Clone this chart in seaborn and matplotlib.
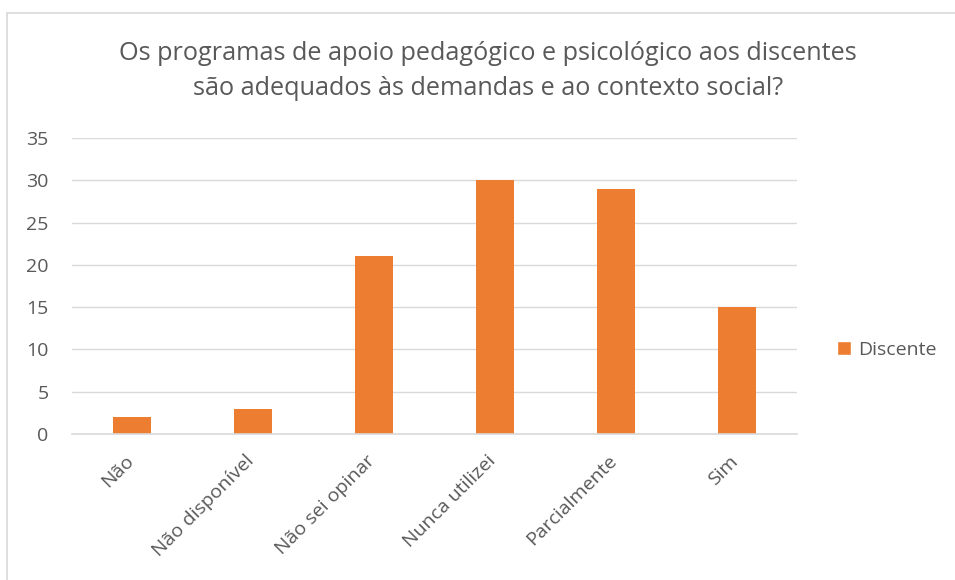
import matplotlib
matplotlib.use("Agg")
import matplotlib.pyplot as plt
import matplotlib.transforms as mtransforms
import seaborn as sns
import pandas as pd
from matplotlib.lines import Line2D
from matplotlib.patches import Patch

categories = ["Não", "Não disponível", "Não sei opinar", "Nunca utilizei", "Parcialmente", "Sim"]
values = [2, 3, 21, 30, 29, 15]
series_name = "Discente"
title = "Os programas de apoio pedagógico e psicológico aos discentes\nsão adequados às demandas e ao contexto social?"

sns.set_theme(style="white")
plt.rcParams['font.family'] = ['Open Sans', 'DejaVu Sans']

df = pd.DataFrame({"cat": categories, "val": values, "serie": series_name})

W, H = 955, 580
fig = plt.figure(figsize=(W / 100, H / 100), dpi=100)
ax = fig.add_axes([72 / W, 1 - 434 / H, (797 - 72) / W, (434 - 138) / H])

sns.barplot(data=df, x="cat", y="val", color="#ED7D31", width=0.315, ax=ax,
            saturation=1, edgecolor="none")

ax.set_ylim(0, 35)
ax.set_xlim(-0.5, len(categories) - 0.5)
ax.set_yticks(range(0, 36, 5))
ax.yaxis.grid(True, color="#D9D9D9", linewidth=1.0)
ax.set_axisbelow(True)
for s in ["top", "right", "left"]:
    ax.spines[s].set_visible(False)
ax.spines["bottom"].set_color("#D9D9D9")
ax.spines["bottom"].set_linewidth(1.2)
ax.set_xlabel("")
ax.set_ylabel("")
ax.tick_params(axis="both", length=0, colors="#595959", labelsize=14)
ax.tick_params(axis="y", pad=17)
ax.tick_params(axis="x", pad=13)
offset = mtransforms.ScaledTranslation(-8 / 100, 0, fig.dpi_scale_trans)
for lbl in ax.get_xticklabels():
    lbl.set_rotation(45)
    lbl.set_ha("right")
    lbl.set_rotation_mode("anchor")
    lbl.set_transform(lbl.get_transform() + offset)

fig.text(488 / W, 1 - 71 / H, title, ha="center", va="center", fontsize=18.2,
         color="#595959", linespacing=1.55)

leg = fig.legend(handles=[Patch(facecolor="#ED7D31", label=series_name)],
                 loc="center left", bbox_to_anchor=(819 / W, 1 - 350 / H),
                 frameon=False, fontsize=14, handlelength=0.75, handleheight=0.75,
                 handletextpad=0.35, labelcolor="#595959")

# outer chart border
fig.add_artist(Line2D([7 / W, 7 / W], [0, 1 - 13 / H], transform=fig.transFigure,
                      color="#D9D9D9", linewidth=1.2))
fig.add_artist(Line2D([7 / W, 1], [1 - 13 / H, 1 - 13 / H], transform=fig.transFigure,
                      color="#D9D9D9", linewidth=1.2))

fig.savefig("out.png", dpi=100, facecolor="white")
